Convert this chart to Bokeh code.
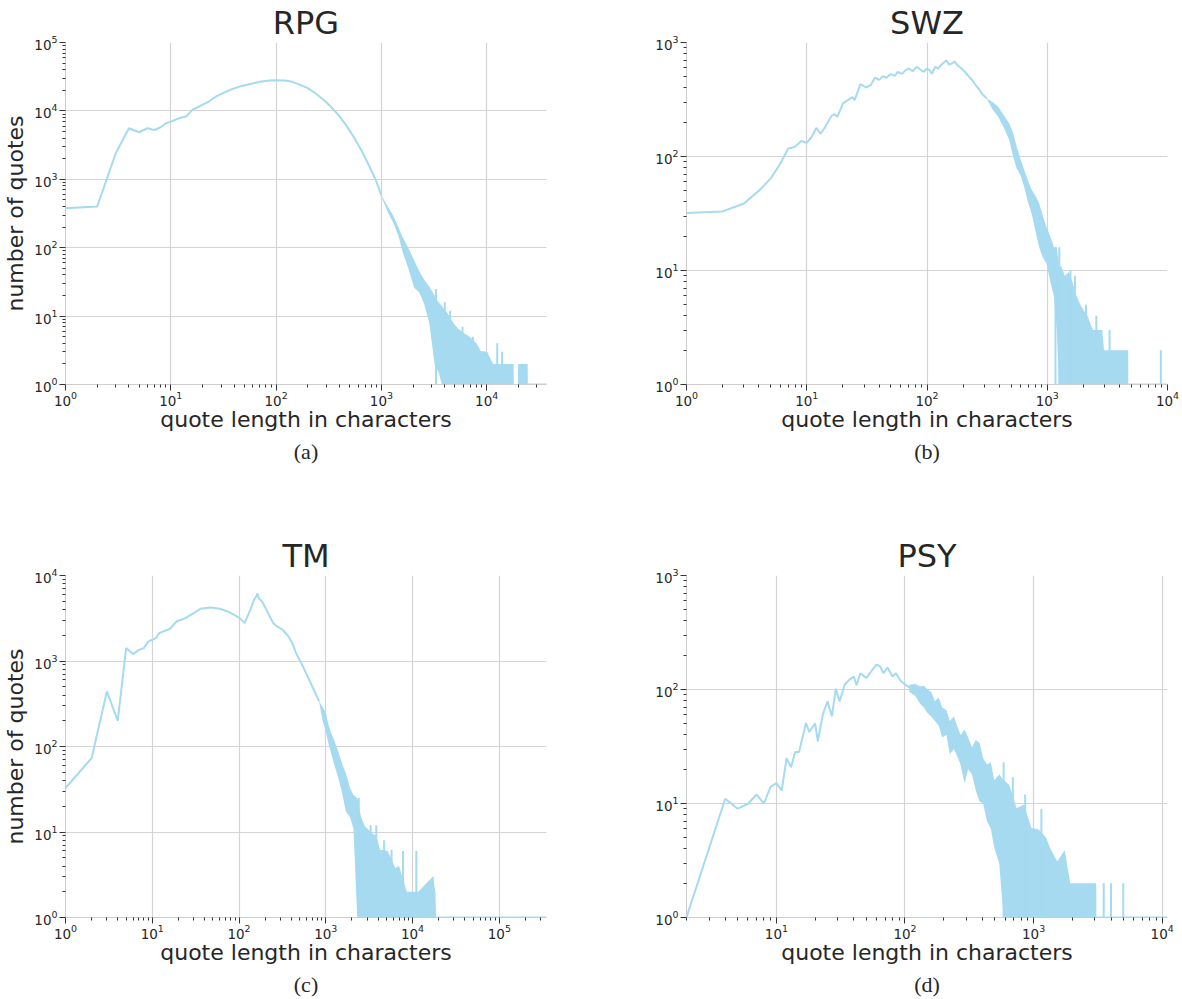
from bokeh.plotting import figure
from bokeh.models import Range1d, FixedTicker, Title
from bokeh.layouts import column, row
from bokeh.embed import file_html
from bokeh.resources import INLINE

# ---------------- data ----------------
titles = ["RPG", "SWZ", "TM", "PSY"]
captions = ["(a)", "(b)", "(c)", "(d)"]
xlabel = "quote length in characters"
ylabel = "number of quotes"

# RPG
rpg_len = [1, 2, 3, 4, 5, 6, 7, 8, 9, 10, 12, 14, 16, 19, 23, 27, 32, 38, 47, 57, 70, 87, 100, 121, 143, 169, 200,
           236, 279, 330, 390, 460, 544, 643, 759, 897, 1000]
rpg_cnt = [377, 400, 2400, 5580, 4870, 5580, 5260, 5760, 6600, 6980, 7800, 8260, 10350, 11800, 13700, 16300, 18500,
           20700, 23200, 24800, 26600, 27800, 28000, 27800, 26600, 24000, 21500, 18100, 14800, 11600, 8740, 6240,
           4210, 2690, 1620, 925, 580]
rpg_tail_x = [1000, 1150, 1300, 1450, 1600, 1800, 2050, 2300, 2550, 2850, 3200, 3500, 3750, 4250, 4800, 5400, 6200,
              7000, 8000, 8800, 10100, 11500, 15700, 18000, 18100, 19800, 19900, 24500, 24600]
rpg_tail_hi = [580, 400, 290, 200, 140, 100, 65, 45, 34, 27, 20, 16, 14, 11, 8, 6.5, 5.5, 4.9, 4, 3.1, 3, 2, 2, 2,
               1, 1, 2, 2, 1]
rpg_tail_lo = [560, 330, 230, 150, 85, 50, 26, 22, 15, 8, 2, 1.5, 1, 1, 1, 1, 1, 1, 1, 1, 1, 1, 1, 1, 1, 1, 1, 1, 1]
rpg_spike_x = [3300, 4000, 4500, 5900, 7400, 12600, 14000]
rpg_spike_y = [25, 16, 12, 7, 5, 4, 3]
rpg_floor = [24600, 37000]

# SWZ
swz_len = [1, 2, 3, 4, 5, 6, 7, 8, 9, 10, 11, 12, 13, 14, 16, 17, 18, 20, 22, 24, 25, 28, 31, 34, 37, 40, 43, 46,
           50, 54, 57, 62, 66, 71, 76, 82, 88, 94, 100, 105, 110, 117, 124, 130, 137, 145, 152, 161, 170, 179, 190,
           207, 220, 238, 255, 272, 290, 315]
swz_cnt = [32, 33, 38.7, 50, 64, 86, 117, 122, 137, 132, 149, 178, 159, 176, 226, 235, 223, 292, 312, 332, 312, 431,
           403, 422, 493, 470, 507, 490, 528, 510, 553, 530, 570, 592, 560, 612, 580, 553, 590, 572, 530, 612, 590,
           631, 660, 700, 640, 655, 680, 631, 600, 553, 510, 467, 420, 387, 350, 323]
swz_tail_x = [315, 350, 391, 435, 484, 520, 558, 600, 644, 690, 742, 800, 855, 920, 986, 1060, 1137, 1200, 1250,
              1310, 1400, 1510, 1622, 1750, 1870, 2000, 2155, 2400, 2865, 2966, 4710, 4720]
swz_tail_hi = [323, 300, 273, 230, 195, 160, 122, 95, 76, 62, 51, 45, 39, 30, 24, 20, 16, 16, 11, 10.8, 9, 9.7,
               7.9, 6, 5.1, 4.5, 4, 3, 3, 2, 2, 1]
swz_tail_lo = [320, 260, 223, 180, 139, 100, 78, 68, 54, 40, 31.6, 22, 16, 13, 11.5, 8, 5.9, 3, 1, 1, 1, 1, 1, 1,
               1, 1, 1, 1, 1, 1, 1, 1]
swz_spike_x = [1170, 1260, 1560, 1700, 2100, 2560, 3300, 8800]
swz_spike_y = [16, 16, 10, 9, 5, 4, 3, 2]
swz_floor = [4720, 10000]

# TM
tm_len = [1, 2, 3, 4, 5, 6, 7, 8, 9, 10, 11, 12, 16, 19, 24, 30, 36, 47, 60, 74, 90, 102, 116, 135, 149, 158, 163,
          169, 184, 203, 226, 249, 275, 318, 371, 411, 455, 557, 684, 839]
tm_cnt = [32.7, 73, 441, 200, 1415, 1205, 1350, 1415, 1694, 1770, 1850, 2120, 2380, 2900, 3170, 3630, 4080, 4230,
          4080, 3800, 3410, 3170, 2770, 3960, 5200, 5690, 6170, 5430, 4970, 4150, 3320, 2770, 2540, 2320, 1940, 1620,
          1237, 827, 527, 337]
tm_tail_x = [839, 920, 1000, 1060, 1135, 1250, 1390, 1550, 1700, 1900, 2085, 2305, 2550, 2820, 3300, 3820, 4230,
             5180, 6340, 7000, 8590, 11640, 17100, 18350, 18700]
tm_tail_hi = [337, 290, 250, 190, 150, 118, 88, 62, 49, 33, 27, 25, 15, 11.7, 10, 9, 6.2, 6, 3.8, 4, 2, 2, 3, 2, 1]
tm_tail_lo = [330, 200, 150, 115, 88, 62, 43, 28, 17.5, 15, 11, 1, 1, 1, 1, 1, 1, 1, 1, 1, 1, 1, 1, 1, 1]
tm_spike_x = [2400, 3285, 3820, 4700, 5730, 7770, 11060, 17100]
tm_spike_y = [25, 12, 12, 8, 6.2, 6, 6, 3]
tm_floor = [18700, 350000]

# PSY
psy_len = [2, 4, 5, 6, 7, 8, 9, 10, 11, 12, 13, 14, 15, 17, 18, 20, 21, 23, 25, 27, 29, 31, 34, 37, 40, 42, 45, 50,
           55, 60, 64, 68, 73, 80, 85, 93, 101, 111, 122]
psy_cnt = [1, 11, 9, 9.9, 12, 10, 14, 15.1, 13, 25, 20.8, 28.3, 28.3, 50.8, 42.4, 50.5, 35, 61, 78.7, 58, 101.6, 78.7,
           110, 122, 130, 109, 139, 126, 146, 165, 160, 139, 156, 130, 139, 118, 110, 103, 106]
psy_tail_x = [108, 120, 131, 140, 150, 160, 171, 183, 195, 210, 223, 240, 255, 270, 291, 310, 332, 355, 380, 405,
              434, 465, 495, 540, 585, 646, 737, 841, 961, 1097, 1253, 1340, 1528, 1746, 1928, 3070, 3080]
psy_tail_hi = [110, 112, 106, 108, 100, 95, 79, 85, 69, 66, 53, 58, 47.5, 40, 44.5, 38, 31, 36, 34, 25, 22, 23, 16,
               18, 16, 14.6, 9.1, 9.8, 6.1, 5.9, 5, 4.1, 3.1, 3.9, 2, 2, 1]
psy_tail_lo = [95, 88, 75, 70, 62, 58, 53, 48, 38, 40, 27, 30, 26, 22, 15, 20, 18, 13, 10.4, 10, 7, 6, 4.1, 3, 1,
               1, 1, 1, 1, 1, 1, 1, 1, 1, 1, 1, 1]
psy_spike_x = [585, 690, 860, 1150, 3510, 4000, 4980]
psy_spike_y = [23, 17, 12, 9, 2, 2, 2]
psy_floor = [3080, 11000]

# axis extents
x_ranges = [(1, 37000), (1, 10000), (1, 350000), (2, 11000)]
y_ranges = [(1, 1e5), (1, 1e3), (1, 1e4), (1, 1e3)]
x_exps = [(0, 4), (0, 4), (0, 5), (0, 4)]
y_exps = [(0, 5), (0, 3), (0, 4), (0, 3)]

# ---------------- styling ----------------
COLOR = "#a5daf0"   # skyblue at ~75% opacity on white, drawn opaque so overlaps don't darken
TEXT = "#262626"


def log_ticks(lo, hi):
    major = [10.0 ** e for e in range(lo, hi + 1)]
    minor = [m * 10.0 ** e for e in range(lo, hi + 1) for m in range(2, 10)]
    return major, minor


def panel(i, main_x, main_y, tail_x, tail_hi, tail_lo, spike_x, spike_y, floor_x,
          left_col, top_row):
    width = 600 if left_col else 582
    height = 500 if top_row else 499
    p = figure(width=width, height=height, x_axis_type="log", y_axis_type="log",
               x_range=Range1d(*x_ranges[i]), y_range=Range1d(*y_ranges[i]),
               output_backend="svg", toolbar_location=None,
               min_border_left=63 if left_col else 86,
               min_border_right=54 if left_col else 15,
               min_border_top=42 if top_row else 75,
               min_border_bottom=116 if top_row else 82)
    p.outline_line_color = None
    p.background_fill_color = "white"
    p.border_fill_color = "white"

    p.title.text = titles[i]
    p.title.align = "center"
    p.title.text_font = "DejaVu Sans"
    p.title.text_font_size = "32px"
    p.title.text_font_style = "normal"
    p.title.text_color = TEXT
    p.title.standoff = 2

    xmaj, xmin = log_ticks(*x_exps[i])
    ymaj, ymin = log_ticks(*y_exps[i])
    p.xaxis.ticker = FixedTicker(ticks=xmaj, minor_ticks=xmin)
    p.yaxis.ticker = FixedTicker(ticks=ymaj, minor_ticks=ymin)

    for ax in (p.xaxis[0], p.yaxis[0]):
        ax.axis_line_color = "#cccccc"
        ax.axis_line_width = 1
        ax.major_tick_line_color = "#333333"
        ax.minor_tick_line_color = "#333333"
        ax.major_tick_out = 6
        ax.major_tick_in = 0
        ax.minor_tick_out = 3
        ax.minor_tick_in = 0
        ax.major_label_text_font = "DejaVu Sans"
        ax.major_label_text_font_size = "13.5px"
        ax.major_label_text_color = TEXT
        ax.axis_label_text_font = "DejaVu Sans"
        ax.axis_label_text_font_size = "22px"
        ax.axis_label_text_font_style = "normal"
        ax.axis_label_text_color = TEXT

    p.xaxis.major_label_standoff = 0
    p.xaxis.axis_label_standoff = -2
    p.yaxis.major_label_standoff = 2
    p.yaxis.axis_label_standoff = 3

    p.xaxis.axis_label = xlabel
    if left_col:
        p.yaxis.axis_label = ylabel

    p.grid.grid_line_color = "#d4d4d4"
    p.grid.grid_line_width = 1.2

    p.varea(x=tail_x, y1=tail_lo, y2=tail_hi, fill_color=COLOR)
    p.segment(x0=spike_x, y0=[1] * len(spike_x), x1=spike_x, y1=spike_y,
              line_color=COLOR, line_width=2)
    p.line(x=main_x, y=main_y, line_color=COLOR, line_width=2)
    p.line(x=floor_x, y=[1, 1], line_color=COLOR, line_width=2)

    cap = Title(text=captions[i], align="center", text_font="Liberation Serif",
                text_font_size="22px", text_font_style="normal", text_color=TEXT, standoff=4)
    p.add_layout(cap, "below")
    return p


pa = panel(0, rpg_len, rpg_cnt, rpg_tail_x, rpg_tail_hi, rpg_tail_lo, rpg_spike_x, rpg_spike_y, rpg_floor, True, True)
pb = panel(1, swz_len, swz_cnt, swz_tail_x, swz_tail_hi, swz_tail_lo, swz_spike_x, swz_spike_y, swz_floor, False, True)
pc = panel(2, tm_len, tm_cnt, tm_tail_x, tm_tail_hi, tm_tail_lo, tm_spike_x, tm_spike_y, tm_floor, True, False)
pd = panel(3, psy_len, psy_cnt, psy_tail_x, psy_tail_hi, psy_tail_lo, psy_spike_x, psy_spike_y, psy_floor, False, False)

layout = column(row(pa, pb), row(pc, pd))
open("out.html", "w").write(file_html(layout, INLINE))
